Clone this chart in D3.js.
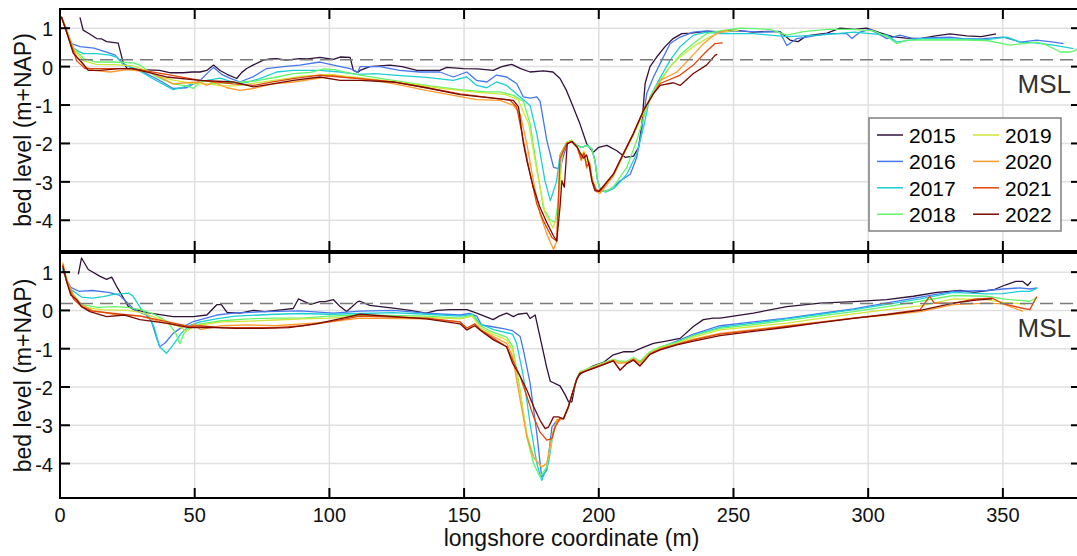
<!DOCTYPE html>
<html>
<head>
<meta charset="utf-8">
<script src="https://cdn.jsdelivr.net/npm/d3@7"></script>
<style>
  body { margin: 0; background: #fff; }
  svg text { font-family: "Liberation Sans", Arial, Helvetica, sans-serif; }
</style>
</head>
<body>
<svg width="1077" height="556"></svg>
<script>
// **** data (x = longshore m, y = bed level m+NAP) ****
var years = [2015, 2016, 2017, 2018, 2019, 2020, 2021, 2022];
var colors = ["#30123b", "#4777ef", "#1bcfd4", "#62f66b", "#cfe63a", "#fe9b2d", "#e0450b", "#7a0a04"];
var xTicks = [0, 50, 100, 150, 200, 250, 300, 350];
var yTicks = [-4, -3, -2, -1, 0, 1];
var mslLevel = 0.18;

// upper profile
var top2015 = [[7.4,1.28],[8.6,0.95],[11,0.85],[13.6,0.73],[15.5,0.72],[17.3,0.65],[19.5,0.63],[21.6,0.61],[23.5,0.09],[25,-0.05],[30,-0.08],[37,-0.1],[41,-0.16],[45.8,-0.16],[49,-0.14],[52,-0.14],[54.5,-0.1],[57,0.04],[59.4,-0.1],[62,-0.2],[65.6,-0.31],[67.5,-0.15],[69.3,-0.05],[72,0.05],[75.5,0.17],[78,0.2],[80.4,0.21],[84,0.17],[89,0.21],[92,0.2],[96.5,0.24],[101.5,0.19],[104,0.25],[107.7,0.24],[108.9,-0.1],[110.5,-0.15],[111.4,-0.1],[115,0.0],[122.5,0.04],[127,0.0],[132.5,-0.1],[141,-0.1],[143.6,-0.02],[149.7,-0.05],[155,-0.06],[160.8,-0.1],[164,0.0],[167.7,0.06],[171,-0.05],[174.5,-0.14],[179.4,-0.11],[183,-0.14],[185.6,-0.31],[188,-0.62],[190.5,-1.05],[193,-1.49],[195.5,-2.01],[198,-2.23],[200,-2.1],[203,-2.05],[206.7,-2.19],[209.8,-2.36],[212.9,-2.33],[214.8,-2.1],[216,-1.49],[217.2,-0.44],[219,0.0],[221.5,0.25],[224.6,0.52],[227.6,0.73],[230.8,0.86],[234,0.87],[240,0.92],[245,0.91],[250,0.95],[257.3,0.9],[263,0.92],[267.3,0.91],[271,0.69],[274,0.65],[277,0.8],[284.7,0.87],[289.6,1.0],[295,0.97],[299.4,1.0],[304.5,0.88],[309,0.78],[314,0.74],[319.3,0.73],[325,0.8],[330.4,0.85],[336.6,0.8],[342,0.78],[347.5,0.85]];
var top2016 = [[0.5,1.3],[2,1.05],[4.3,0.6],[7.4,0.52],[12.6,0.48],[17.3,0.38],[20.5,0.3],[23.5,0.07],[27.2,-0.05],[31,-0.15],[34.6,-0.27],[38,-0.4],[42,-0.57],[47,-0.55],[52,-0.36],[55,-0.15],[57,-0.02],[60,-0.2],[63,-0.3],[66.8,-0.4],[71.8,-0.26],[76.7,-0.05],[82.9,0.0],[89,0.04],[96.5,0.12],[101.5,0.04],[107.7,-0.05],[110.5,-0.15],[111.4,0.0],[118.8,0.0],[126,-0.1],[133.5,-0.14],[141,-0.14],[146,-0.27],[151,-0.14],[154.7,-0.36],[158.5,-0.4],[162,-0.22],[165.8,-0.27],[169.5,-0.44],[172,-0.79],[174.5,-0.82],[177,-0.79],[178.2,-0.9],[180.7,-1.92],[183.2,-2.62],[185.6,-2.66],[187,-2.3],[188.5,-1.97],[190,-1.92],[191.8,-2.05],[193.7,-2.1],[195.6,-2.05],[197.4,-2.14],[198.6,-2.45],[199.5,-2.95],[200.5,-3.2],[202,-3.25],[204,-3.2],[206,-3.1],[208,-2.97],[211.7,-2.8],[214.1,-2.36],[215.9,-1.66],[217.8,-0.7],[220.3,-0.27],[223.4,0.17],[226.5,0.6],[230.2,0.77],[235.1,0.9],[240,0.93],[245,0.9],[252,0.93],[260,0.9],[267,0.92],[269.8,0.55],[273.5,0.73],[277.2,0.77],[284.7,0.86],[292,0.86],[294,0.73],[297,0.9],[300.7,0.97],[307,0.73],[311.8,0.82],[316.7,0.73],[322,0.75],[330.4,0.77],[336,0.72],[342.8,0.73],[350.2,0.77],[356.4,0.64],[362.6,0.69],[368.8,0.64],[372.5,0.6]];
var top2017 = [[0.5,1.3],[2,1.0],[4.3,0.5],[8.6,0.34],[13.6,0.34],[18.6,0.3],[21,0.25],[23.5,0.05],[28,-0.05],[33.4,-0.27],[38,-0.45],[42,-0.6],[45,-0.55],[49.3,-0.44],[54.5,-0.36],[59.4,-0.3],[63,-0.38],[66.8,-0.45],[70,-0.4],[74.2,-0.31],[80.4,-0.14],[86.6,-0.1],[96.5,-0.1],[104,-0.14],[110.5,-0.2],[117,-0.18],[123.7,-0.22],[136,-0.28],[146,-0.36],[151,-0.27],[154.7,-0.49],[158.4,-0.55],[162,-0.4],[165.8,-0.49],[170.8,-0.79],[174.5,-1.01],[177,-1.75],[180,-2.97],[182,-3.49],[184.3,-3.0],[185.6,-2.3],[188.1,-1.97],[190,-1.92],[191.8,-2.05],[193.7,-2.1],[195.6,-2.05],[197.4,-2.14],[198.6,-2.45],[199.5,-2.95],[200.5,-3.2],[202.5,-3.27],[205.4,-3.18],[208,-3.0],[210.4,-2.8],[214.1,-2.27],[216.6,-1.58],[219,-0.79],[222.2,-0.36],[226.5,0.17],[230.2,0.52],[235.1,0.82],[240,0.9],[245,0.86],[257.3,0.86],[269.8,0.78],[282.2,0.82],[294.6,0.9],[307,0.82],[310.6,0.64],[319.3,0.73],[330,0.72],[344,0.7],[351.5,0.77],[356.4,0.64],[362,0.62],[368.8,0.56],[376.2,0.47]];
var top2018 = [[0.5,1.3],[2,1.0],[4.9,0.5],[8.7,0.21],[13.5,0.12],[20,0.12],[27.2,0.1],[29.7,0.04],[35.9,-0.27],[42,-0.45],[47,-0.5],[49.5,-0.57],[52,-0.4],[55,-0.36],[57,-0.45],[60,-0.42],[64.3,-0.42],[71.8,-0.38],[79.1,-0.29],[86.6,-0.18],[93,-0.15],[98,-0.06],[102,-0.08],[106,-0.15],[111.4,-0.22],[123.7,-0.36],[136,-0.49],[148.5,-0.6],[158.4,-0.66],[163.4,-0.66],[168.3,-0.75],[172,-0.9],[174.5,-1.49],[177,-2.62],[179.4,-3.67],[182,-4.0],[183.8,-4.05],[185,-3.5],[186.3,-2.3],[188.1,-1.97],[190,-1.92],[191.8,-2.05],[193.7,-2.1],[195.6,-2.05],[197.4,-2.14],[198.6,-2.45],[199.5,-2.95],[200.5,-3.2],[202.5,-3.25],[205.4,-3.14],[210.4,-2.62],[214.1,-1.92],[217.8,-1.05],[220.3,-0.62],[222.8,-0.36],[226.5,0.0],[230.2,0.3],[235.1,0.6],[240,0.86],[245,0.93],[252.5,1.0],[263.6,0.97],[269.8,0.82],[276,0.91],[284.7,0.97],[294.6,0.97],[302,0.93],[307,0.78],[310.6,0.6],[314.4,0.69],[331.7,0.7],[344,0.68],[352.7,0.56],[362.6,0.64],[366.4,0.56],[371.3,0.38],[375,0.38],[378,0.46]];
var top2019 = [[0.5,1.3],[2,1.05],[5,0.45],[8.7,0.15],[13.5,0.06],[20,0.05],[27,0.02],[32,-0.1],[36,-0.25],[42,-0.35],[50,-0.45],[55,-0.45],[60,-0.5],[65,-0.5],[70,-0.45],[80,-0.35],[90,-0.25],[100,-0.2],[110,-0.28],[125,-0.4],[140,-0.55],[155,-0.67],[165,-0.72],[170,-0.85],[174,-1.5],[177,-2.7],[180,-3.8],[183,-4.2],[185,-3.8],[186.3,-2.3],[188.1,-1.97],[190,-1.92],[192,-2.1],[193.5,-2.35],[194.5,-2.2],[195.5,-2.5],[196.5,-2.45],[197.5,-2.9],[199,-3.2],[200,-3.25],[205.4,-2.85],[209.1,-2.3],[212.8,-1.8],[216.6,-1.2],[220.3,-0.7],[222.8,-0.4],[226.5,0.0],[230.2,0.25],[235.1,0.52],[240,0.73],[245,0.9],[252,0.95]];
var top2020 = [[0.5,1.3],[2,1.0],[6.2,0.25],[9.3,0.0],[12.4,-0.1],[18.6,-0.14],[25,-0.08],[33.4,-0.14],[42,-0.45],[47,-0.42],[52,-0.4],[54.5,-0.49],[57,-0.4],[62,-0.55],[66.8,-0.62],[71.8,-0.57],[79,-0.45],[86.6,-0.4],[96.5,-0.3],[101.5,-0.22],[106,-0.28],[111.4,-0.31],[123.7,-0.44],[136,-0.62],[148.5,-0.78],[154.7,-0.86],[163.4,-0.88],[168.3,-1.01],[170.8,-1.23],[173.3,-2.01],[175.7,-2.97],[178.2,-3.84],[180.7,-4.36],[183.2,-4.76],[184.4,-4.54],[185.6,-2.3],[188.1,-2.0],[190,-1.95],[192,-2.1],[193.5,-2.45],[194.5,-2.25],[195.5,-2.65],[196.5,-2.5],[197.5,-2.95],[199,-3.25],[200.5,-3.3],[205.4,-2.85],[209.1,-2.3],[212.8,-1.75],[216.6,-1.14],[220.3,-0.7],[222.8,-0.36],[225.3,-0.27],[229,-0.14],[233.9,0.22],[238.9,0.6],[242.6,0.81],[245,0.9],[248,0.95]];
var top2021 = [[0.5,1.3],[2,1.0],[6.2,0.15],[9.3,-0.05],[14.8,-0.05],[27,-0.05],[39.5,-0.2],[52,-0.36],[64.3,-0.45],[71.8,-0.49],[79,-0.4],[86.6,-0.31],[96.5,-0.22],[104,-0.27],[111.4,-0.31],[123.7,-0.4],[136,-0.55],[148.5,-0.71],[160.8,-0.82],[167,-0.87],[169.5,-1.05],[172,-1.92],[174.5,-2.79],[177,-3.58],[179.4,-4.01],[182.6,-4.45],[184.4,-4.54],[185.6,-2.4],[188.1,-2.0],[190,-1.95],[192,-2.1],[193.5,-2.4],[194.5,-2.25],[195.5,-2.6],[196.5,-2.5],[197.5,-2.95],[199,-3.2],[200.5,-3.25],[205.4,-2.8],[209.1,-2.27],[212.8,-1.75],[216.6,-1.14],[220.3,-0.7],[222.8,-0.44],[230.2,-0.22],[235.1,0.04],[240,0.4],[243.2,0.6],[246,0.62]];
var top2022 = [[0.5,1.3],[2,1.0],[4.9,0.35],[8,0.12],[10.5,-0.1],[14.8,-0.1],[22,-0.05],[27,-0.05],[39.5,-0.27],[52,-0.36],[64.3,-0.4],[71.8,-0.53],[79,-0.45],[86.6,-0.36],[96.5,-0.27],[104,-0.36],[111.4,-0.36],[123.7,-0.4],[136,-0.55],[148.5,-0.73],[163.4,-0.84],[168.3,-0.88],[170.2,-1.05],[172,-2.0],[173.3,-2.45],[175.7,-3.14],[178.2,-3.67],[180.7,-4.06],[183.2,-4.41],[184.4,-4.54],[185.6,-3.66],[186.3,-2.97],[187.2,-3.14],[188.3,-2.01],[190,-1.95],[192,-2.1],[193,-2.23],[194.4,-2.38],[195.5,-2.3],[196.5,-2.6],[197.4,-2.97],[198.6,-3.23],[200,-3.25],[205.4,-2.8],[209.1,-2.27],[212.8,-1.75],[216.6,-1.14],[220.3,-0.7],[222.8,-0.49],[227.7,-0.42],[230.2,-0.49],[235.1,-0.18],[240,0.04],[243.2,0.3],[244,0.32]];

// lower profile
var bot2015 = [[6.8,0.94],[8,1.37],[10.5,1.07],[14.9,0.89],[17.3,0.81],[19.2,0.87],[21,0.63],[23.5,0.33],[25.4,0.1],[27.2,0.03],[33.4,-0.07],[42,-0.16],[49.5,-0.16],[54.5,-0.12],[58.2,0.15],[59.9,0.15],[62,-0.05],[66.8,-0.07],[71.8,0.0],[76,-0.03],[82.9,0.02],[86.6,0.05],[88.5,0.3],[93,0.16],[96.5,0.23],[98.4,0.23],[101.5,0.28],[104,0.1],[106.4,-0.03],[108.5,0.1],[110.5,0.23],[111.4,0.24],[115,0.13],[123.7,0.06],[130,0.0],[135.9,-0.07],[140,0.0],[144.8,0.02],[151,0.02],[154.7,-0.07],[160.8,-0.24],[163,-0.15],[165.8,-0.07],[168.3,-0.16],[170,-0.1],[173.3,-0.07],[174.5,-0.21],[176.4,-0.12],[178.2,-0.7],[180.7,-1.5],[182,-1.85],[185.6,-1.97],[187.5,-2.2],[188.8,-2.39],[190,-2.39],[191.5,-1.85],[192.5,-1.7],[194.3,-1.6],[198,-1.45],[201.7,-1.36],[205.4,-1.16],[209.1,-1.08],[212.8,-1.08],[216,-0.98],[220.3,-0.86],[225,-0.8],[230.2,-0.73],[235.1,-0.42],[238.8,-0.24],[242.5,-0.2],[245,-0.2],[257.4,-0.07],[269.8,0.1],[282.2,0.19],[294.6,0.23],[306.9,0.28],[316.8,0.37],[325.5,0.47],[334.2,0.52],[339.2,0.47],[346.6,0.54],[351.1,0.67],[354.8,0.76],[357.3,0.76],[359.2,0.65],[360.5,0.76]];
var bot2016 = [[1,1.05],[2.5,0.8],[4,0.6],[7,0.5],[12,0.52],[18,0.47],[22,0.4],[25,0.2],[28,0.0],[32,-0.12],[34,-0.3],[36,-0.75],[37,-0.95],[39,-0.85],[42,-0.6],[45,-0.45],[49.5,-0.29],[58.2,-0.12],[64.4,-0.07],[76.8,-0.03],[89,-0.01],[101.5,-0.07],[111.4,-0.02],[123.8,0.0],[136,-0.07],[148.5,-0.12],[152,-0.08],[154.7,-0.15],[156.5,-0.38],[160,-0.42],[165,-0.48],[168,-0.53],[170.8,-0.68],[172,-1.03],[174.5,-1.9],[177,-3.22],[178.8,-4.35],[180.7,-4.17],[182.6,-3.05],[184.4,-2.87],[186.9,-2.83],[188.7,-2.52],[190.5,-2.1],[191.8,-1.8],[193,-1.62],[195.5,-1.55],[199.3,-1.45],[202,-1.38],[205.4,-1.29],[207.3,-1.33],[210.4,-1.34],[212.9,-1.25],[215.3,-1.36],[219,-1.1],[222.8,-0.97],[229,-0.8],[235.2,-0.62],[245,-0.4],[257.4,-0.3],[269.8,-0.2],[282.2,-0.08],[294.6,0.04],[307,0.2],[319.3,0.35],[331.7,0.5],[344,0.52],[350,0.56],[356.4,0.59],[360,0.56],[362.8,0.59]];
var bot2017 = [[1,1.1],[2.5,0.75],[4,0.55],[8,0.35],[12,0.32],[16,0.36],[20,0.42],[25.5,0.45],[27,0.38],[30,0.05],[33,-0.15],[35,-0.45],[37,-0.95],[39.5,-1.12],[42,-0.9],[45,-0.6],[48,-0.4],[52,-0.3],[58,-0.22],[65,-0.15],[80,-0.1],[90,-0.08],[100,-0.1],[111.4,-0.08],[123.8,-0.06],[136,-0.1],[148.5,-0.15],[153,-0.1],[156,-0.35],[160.9,-0.5],[168,-0.62],[169.5,-0.86],[172,-1.72],[174.5,-2.96],[177,-4.0],[178.8,-4.44],[181.3,-4.0],[183.2,-3.13],[185,-2.85],[186.9,-2.83],[188.7,-2.52],[190.5,-2.1],[191.8,-1.8],[193,-1.62],[195.5,-1.55],[199.3,-1.45],[202,-1.38],[205.4,-1.29],[207.3,-1.33],[210.4,-1.34],[212.9,-1.25],[215.3,-1.36],[219,-1.1],[222.8,-0.97],[229,-0.82],[235.2,-0.65],[245,-0.44],[257.4,-0.33],[269.8,-0.22],[282.2,-0.1],[294.6,0.02],[307,0.16],[319.3,0.3],[331.7,0.47],[344,0.43],[350,0.44],[356.4,0.5],[360,0.5],[362.8,0.58]];
var bot2018 = [[1,1.2],[2.5,0.8],[4,0.5],[8,0.15],[14,0.08],[20,0.1],[25,0.08],[30,0.02],[35,-0.1],[40,-0.3],[43,-0.6],[44.5,-0.87],[46,-0.6],[48,-0.45],[52,-0.35],[60,-0.27],[70,-0.22],[80,-0.2],[90,-0.2],[100,-0.15],[111.4,-0.12],[136,-0.15],[148.5,-0.2],[153,-0.12],[156,-0.4],[160,-0.55],[165.8,-0.7],[168,-0.94],[170.8,-2.08],[173.3,-3.3],[175.8,-4.0],[178.2,-4.35],[180.7,-4.09],[182.6,-3.3],[184.5,-2.85],[186.9,-2.83],[188.7,-2.52],[190.5,-2.1],[191.8,-1.8],[193,-1.6],[195.5,-1.53],[199.3,-1.43],[202,-1.36],[205.4,-1.28],[207.3,-1.32],[210.4,-1.33],[212.9,-1.23],[215.3,-1.33],[219,-1.08],[222.8,-0.95],[229,-0.83],[235.2,-0.66],[245,-0.47],[257.4,-0.37],[269.8,-0.26],[282.2,-0.14],[294.6,-0.03],[307,0.1],[319.3,0.24],[331.7,0.39],[344,0.37],[350,0.3],[356.4,0.26],[360,0.24],[362.6,0.33]];
var bot2019 = [[1,1.2],[2.5,0.75],[5,0.35],[8,0.1],[15,0.02],[25,0.0],[30,-0.05],[40,-0.3],[45,-0.45],[47,-0.55],[50,-0.4],[60,-0.3],[70,-0.28],[80,-0.25],[90,-0.22],[100,-0.2],[111.4,-0.15],[136,-0.18],[148.5,-0.22],[153,-0.15],[156,-0.45],[160,-0.6],[165.8,-0.77],[168,-1.03],[170.8,-2.17],[173.3,-3.22],[175.8,-3.83],[178.8,-4.09],[180.7,-4.0],[182.6,-3.39],[184.5,-2.85],[186.9,-2.83],[188.7,-2.52],[190.5,-2.1],[191.8,-1.8],[193,-1.62],[195.5,-1.55],[199.3,-1.45],[202,-1.38],[205.4,-1.29],[207.3,-1.35],[210.4,-1.35],[212.9,-1.26],[215.3,-1.37],[219,-1.11],[222.8,-0.98],[229,-0.86],[235.2,-0.7],[245,-0.51],[257.4,-0.42],[269.8,-0.33],[282.2,-0.21],[294.6,-0.09],[307,0.02],[319.3,0.12],[331.7,0.3],[344,0.28],[350,0.21],[356.4,0.18],[358.5,0.16]];
var bot2020 = [[1,1.25],[2.5,0.8],[5,0.4],[8,0.15],[12,0.0],[20,-0.1],[30,-0.15],[40,-0.35],[48,-0.45],[50,-0.35],[52,-0.5],[60,-0.4],[70,-0.38],[80,-0.4],[90,-0.35],[100,-0.3],[111.4,-0.2],[136,-0.22],[148.5,-0.3],[151,-0.51],[154,-0.35],[156,-0.5],[160.9,-0.68],[165.8,-0.86],[168,-1.2],[170.8,-2.34],[173.3,-3.3],[175.8,-3.83],[178.8,-4.09],[180.7,-4.0],[182.6,-3.3],[184.5,-2.85],[186.9,-2.83],[188.7,-2.52],[190.5,-2.1],[191.8,-1.8],[193,-1.63],[195.5,-1.56],[199.3,-1.46],[202,-1.39],[205.4,-1.3],[207.3,-1.38],[210.4,-1.36],[212.9,-1.27],[215.3,-1.38],[219,-1.12],[222.8,-1.0],[229,-0.88],[235.2,-0.75],[245,-0.6],[257.4,-0.5],[269.8,-0.4],[282.2,-0.3],[294.6,-0.2],[307,-0.12],[319.3,-0.03],[331.7,0.15],[344,0.19],[350,0.17],[356.4,0.0],[357.5,-0.02]];
var bot2021 = [[1,1.2],[2.5,0.75],[5,0.3],[8,0.1],[12,-0.02],[20,-0.08],[30,-0.15],[40,-0.3],[48,-0.42],[52,-0.4],[60,-0.45],[70,-0.45],[80,-0.45],[90,-0.4],[100,-0.3],[111.4,-0.15],[136,-0.2],[148.5,-0.3],[151,-0.46],[154,-0.35],[156,-0.5],[160.9,-0.73],[165.8,-0.95],[168,-1.29],[170.8,-1.72],[173.3,-2.25],[175.8,-2.78],[178.2,-3.18],[180.7,-3.39],[182.6,-3.35],[183.8,-3.05],[185.6,-2.82],[186.9,-2.83],[188.7,-2.52],[190.5,-2.1],[191.8,-1.8],[193,-1.64],[195.5,-1.57],[199.3,-1.47],[202,-1.4],[205.4,-1.31],[207.9,-1.56],[210.4,-1.38],[212.9,-1.28],[215.3,-1.45],[219,-1.14],[222.8,-1.01],[229,-0.89],[235.2,-0.77],[245,-0.62],[257.4,-0.52],[269.8,-0.42],[282.2,-0.31],[294.6,-0.2],[307,-0.1],[319.3,0.02],[322.8,0.37],[324.5,0.19],[331.7,0.19],[340,0.3],[346,0.32],[350,0.18],[356.4,0.07],[360,0.02],[362.6,0.36]];
var bot2022 = [[1,1.15],[2.5,0.75],[4,0.4],[6.2,0.28],[8,0.1],[11.1,-0.03],[17.3,-0.16],[24,-0.12],[29.7,-0.24],[40,-0.34],[48,-0.45],[55,-0.44],[65,-0.47],[75,-0.47],[85,-0.45],[95,-0.35],[105,-0.2],[111.4,-0.1],[136,-0.22],[148.5,-0.35],[151,-0.51],[154,-0.4],[156,-0.52],[160.9,-0.77],[165.8,-0.95],[168,-1.38],[170.8,-1.72],[173.3,-2.08],[175.8,-2.51],[178.2,-2.87],[180.1,-3.09],[181.3,-3.05],[183.2,-2.78],[185,-2.78],[186.9,-2.83],[188.7,-2.52],[190.5,-2.1],[191.8,-1.8],[193,-1.65],[195.5,-1.58],[199.3,-1.48],[202,-1.41],[205.4,-1.32],[207.9,-1.56],[210.4,-1.39],[212.9,-1.3],[215.3,-1.45],[219,-1.15],[222.8,-1.03],[229,-0.9],[235.2,-0.8],[245,-0.66],[257.4,-0.55],[269.8,-0.44],[282.2,-0.32],[294.6,-0.21],[307,-0.11],[319.3,0.0],[331.7,0.19],[340,0.27],[346,0.3]];

var topSeries = [top2015, top2016, top2017, top2018, top2019, top2020, top2021, top2022];
var botSeries = [bot2015, bot2016, bot2017, bot2018, bot2019, bot2020, bot2021, bot2022];

// **** layout ****
var svg = d3.select("svg");
var left = 60, right = 1081;
var xScale = d3.scaleLinear().domain([0, 379]).range([left, right]);

var panels = [
  { top: 9, bottom: 251, yDomain: [-4.8, 1.5], series: topSeries, xLabels: false, legend: true, clip: "clipTop" },
  { top: 253, bottom: 498, yDomain: [-4.9, 1.5], series: botSeries, xLabels: true, legend: false, clip: "clipBot" }
];

var defs = svg.append("defs");

panels.forEach(function(p) {
  var yScale = d3.scaleLinear().domain(p.yDomain).range([p.bottom, p.top]);
  var g = svg.append("g");

  defs.append("clipPath").attr("id", p.clip)
    .append("rect")
    .attr("x", left).attr("y", p.top)
    .attr("width", right - left).attr("height", p.bottom - p.top);

  // grid
  g.selectAll(".vgrid").data(xTicks.slice(1)).enter().append("line")
    .attr("x1", function(d) { return xScale(d); })
    .attr("x2", function(d) { return xScale(d); })
    .attr("y1", p.top).attr("y2", p.bottom)
    .attr("stroke", "#e0e0e0").attr("stroke-width", 1.5);
  g.selectAll(".hgrid").data(yTicks).enter().append("line")
    .attr("x1", left).attr("x2", right)
    .attr("y1", function(d) { return yScale(d); })
    .attr("y2", function(d) { return yScale(d); })
    .attr("stroke", "#e0e0e0").attr("stroke-width", 1.5);

  // profiles
  var line = d3.line()
    .x(function(d) { return xScale(d[0]); })
    .y(function(d) { return yScale(d[1]); });

  var lines = g.append("g").attr("clip-path", "url(#" + p.clip + ")");
  lines.selectAll("path").data(p.series).enter().append("path")
    .attr("d", line)
    .attr("fill", "none")
    .attr("stroke", function(d, i) { return colors[i]; })
    .attr("stroke-width", 1.3)
    .attr("stroke-linejoin", "round");

  // mean sea level
  g.append("line")
    .attr("x1", left).attr("x2", right)
    .attr("y1", yScale(mslLevel)).attr("y2", yScale(mslLevel))
    .attr("stroke", "#7a7a7a").attr("stroke-width", 1.4)
    .attr("stroke-dasharray", "13,7");
  g.append("text")
    .attr("x", 1071).attr("y", yScale(mslLevel) + 33)
    .attr("text-anchor", "end")
    .attr("font-size", 26)
    .attr("fill", "#333")
    .text("MSL");

  // box + inward ticks on all sides
  var tl = 10;
  g.append("rect")
    .attr("x", left).attr("y", p.top)
    .attr("width", right - left).attr("height", p.bottom - p.top)
    .attr("fill", "none").attr("stroke", "#000").attr("stroke-width", 2);
  xTicks.forEach(function(t) {
    var x = xScale(t);
    g.append("line").attr("x1", x).attr("x2", x).attr("y1", p.bottom).attr("y2", p.bottom - tl)
      .attr("stroke", "#000").attr("stroke-width", 2);
    g.append("line").attr("x1", x).attr("x2", x).attr("y1", p.top).attr("y2", p.top + tl)
      .attr("stroke", "#000").attr("stroke-width", 2);
  });
  yTicks.forEach(function(t) {
    var y = yScale(t);
    g.append("line").attr("x1", left).attr("x2", left + tl).attr("y1", y).attr("y2", y)
      .attr("stroke", "#000").attr("stroke-width", 2);
    g.append("line").attr("x1", right).attr("x2", right - tl).attr("y1", y).attr("y2", y)
      .attr("stroke", "#000").attr("stroke-width", 2);
    g.append("text")
      .attr("x", 53).attr("y", y + 8)
      .attr("text-anchor", "end")
      .attr("font-size", 20)
      .attr("fill", "#111")
      .text(t === 0 ? "0" : (t < 0 ? "-" + Math.abs(t) : t));
  });

  if (p.xLabels) {
    xTicks.forEach(function(t) {
      g.append("text")
        .attr("x", xScale(t)).attr("y", p.bottom + 24)
        .attr("text-anchor", "middle")
        .attr("font-size", 20)
        .attr("fill", "#111")
        .text(t);
    });
    g.append("text")
      .attr("x", (left + 1083) / 2).attr("y", 546)
      .attr("text-anchor", "middle")
      .attr("font-size", 23)
      .attr("fill", "#111")
      .text("longshore coordinate (m)");
  }

  g.append("text")
    .attr("transform", "translate(31," + ((p.top + p.bottom) / 2) + ") rotate(-90)")
    .attr("text-anchor", "middle")
    .attr("font-size", 23)
    .attr("fill", "#111")
    .text("bed level (m+NAP)");

  if (p.legend) {
    var lg = g.append("g");
    lg.append("rect")
      .attr("x", 869).attr("y", 118).attr("width", 192).attr("height", 113)
      .attr("fill", "#fff").attr("stroke", "#808080").attr("stroke-width", 1.5);
    years.forEach(function(yr, i) {
      var col = Math.floor(i / 4), row = i % 4;
      var lx = 877 + col * 96, cy = 135 + row * 26.4;
      lg.append("line")
        .attr("x1", lx).attr("x2", lx + 26).attr("y1", cy).attr("y2", cy)
        .attr("stroke", colors[i]).attr("stroke-width", 1.5);
      lg.append("text")
        .attr("x", lx + 32).attr("y", cy + 7.8)
        .attr("font-size", 21)
        .attr("fill", "#000")
        .text(yr);
    });
  }
});
</script>
</body>
</html>
